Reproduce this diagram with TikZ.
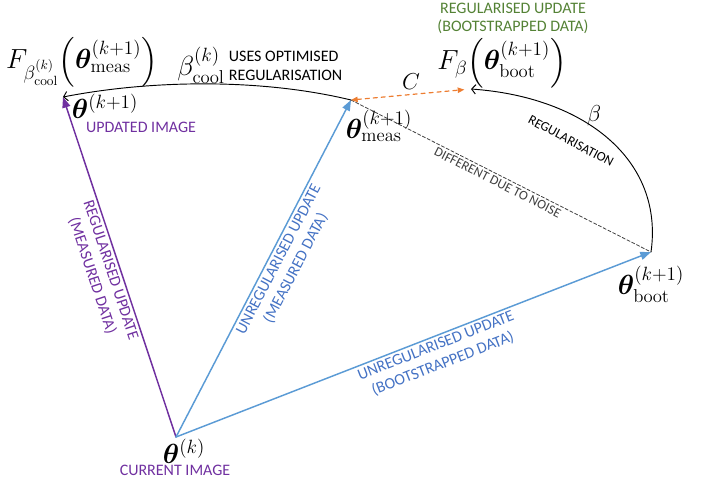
\documentclass[tikz,border=0pt]{standalone}
\usepackage{amsmath,bm}
\usepackage{fontspec}
\setsansfont{Carlito}
\usetikzlibrary{arrows.meta}
\definecolor{updblue}{HTML}{5B9BD5}
\definecolor{txtblue}{HTML}{4472C4}
\definecolor{regpurple}{HTML}{7030A0}
\definecolor{diforange}{HTML}{ED7D31}
\definecolor{bootgreen}{HTML}{548235}
\definecolor{noisegray}{HTML}{404040}
\tikzset{
	caps/.style={font=\sffamily\fontsize{12}{14.5}\selectfont,align=center,inner sep=2pt},
	smallcaps/.style={font=\sffamily\fontsize{10}{11}\selectfont,inner sep=2pt},
	big/.style={font=\fontsize{20}{24}\selectfont,inner sep=1pt},
	mid/.style={font=\fontsize{16}{19}\selectfont,inner sep=1pt},
	upd/.style={line width=1.1pt,-{Triangle[length=8pt,width=6pt]}},
}
\begin{document}
\begin{tikzpicture}[x=0.75pt,y=-0.75pt,line join=round,line cap=round]
			\useasboundingbox (0,0) rectangle (702,480);
			\coordinate (cur) at (176,437);
			\coordinate (new) at (63,97);
			\coordinate (meas) at (351,100);
			\coordinate (boot) at (651,252);
			\coordinate (fboot) at (471,89);
			% updates from the current image
			\draw[upd,regpurple] (cur)--(new)
			node[caps,midway,sloped,below]{REGULARISED UPDATE\\(MEASURED DATA)};
			\draw[upd,updblue] (cur)--(meas)
			node[caps,txtblue,pos=.54,sloped,below]{UNREGULARISED UPDATE\\(MEASURED DATA)};
			\draw[upd,updblue] (cur)--(boot)
			node[caps,txtblue,pos=.54,sloped,below]{UNREGULARISED UPDATE\\(BOOTSTRAPPED DATA)};
			\draw[noisegray,line width=.6pt,dash pattern=on 2.5pt off 1.5pt] (meas)--(boot)
			node[smallcaps,midway,sloped,below]{DIFFERENT DUE TO NOISE};
			% regularisation
			\draw[line width=.7pt,-{Straight Barb[length=3pt,width=7pt]}] (meas)
			.. controls (260,78) and (150,80) .. (new);
			\draw[line width=.7pt,-{Straight Barb[length=3pt,width=7pt]}] (boot)
			.. controls (664,160) and (585,97) .. (fboot);
			\draw[diforange,line width=.9pt,dashed,{Triangle[length=5pt,width=4pt]}-{Triangle[length=5pt,width=4pt]},shorten >=5pt] (meas)--(fboot)
			node[mid,black,midway,above=2pt]{$C$};
			% labels
			\node[big] (curlbl) at (184,451) {$\bm{\theta}^{(k)}$};
			\node[caps,regpurple] (curtxt) at (175,470) {CURRENT IMAGE};
			\node[big] (newlbl) at (105,106) {$\bm{\theta}^{(k+1)}$};
			\node[caps,regpurple] (newtxt) at (141,127) {UPDATED IMAGE};
			\node[big] (measlbl) at (379,126) {$\bm{\theta}^{(k+1)}_{\mathrm{meas}}$};
			\node[big] (bootlbl) at (651,284) {$\bm{\theta}^{(k+1)}_{\mathrm{boot}}$};
			\node[big] (fmeas) at (82,62) {$F_{\beta^{(k)}_{\mathrm{cool}}}\!\left(\bm{\theta}^{(k+1)}_{\mathrm{meas}}\right)$};
			\node[big] (cool) at (201,65) {$\beta^{(k)}_{\mathrm{cool}}$};
			\node[caps,align=left,anchor=west] (cooltxt) at (226,66) {USES OPTIMISED\\REGULARISATION};
			\node[big] (fbootlbl) at (502,63) {$F_{\beta}\!\left(\bm{\theta}^{(k+1)}_{\mathrm{boot}}\right)$};
			\node[caps,bootgreen,font=\sffamily\fontsize{12}{13.5}\selectfont] (boottxt) at (513,18) {REGULARISED UPDATE\\(BOOTSTRAPPED DATA)};
			\node[mid] (beta) at (594,116) {$\beta$};
			\node[smallcaps,rotate=-28] (regtxt) at (571,141) {REGULARISATION};
	\end{tikzpicture}
\end{document}
